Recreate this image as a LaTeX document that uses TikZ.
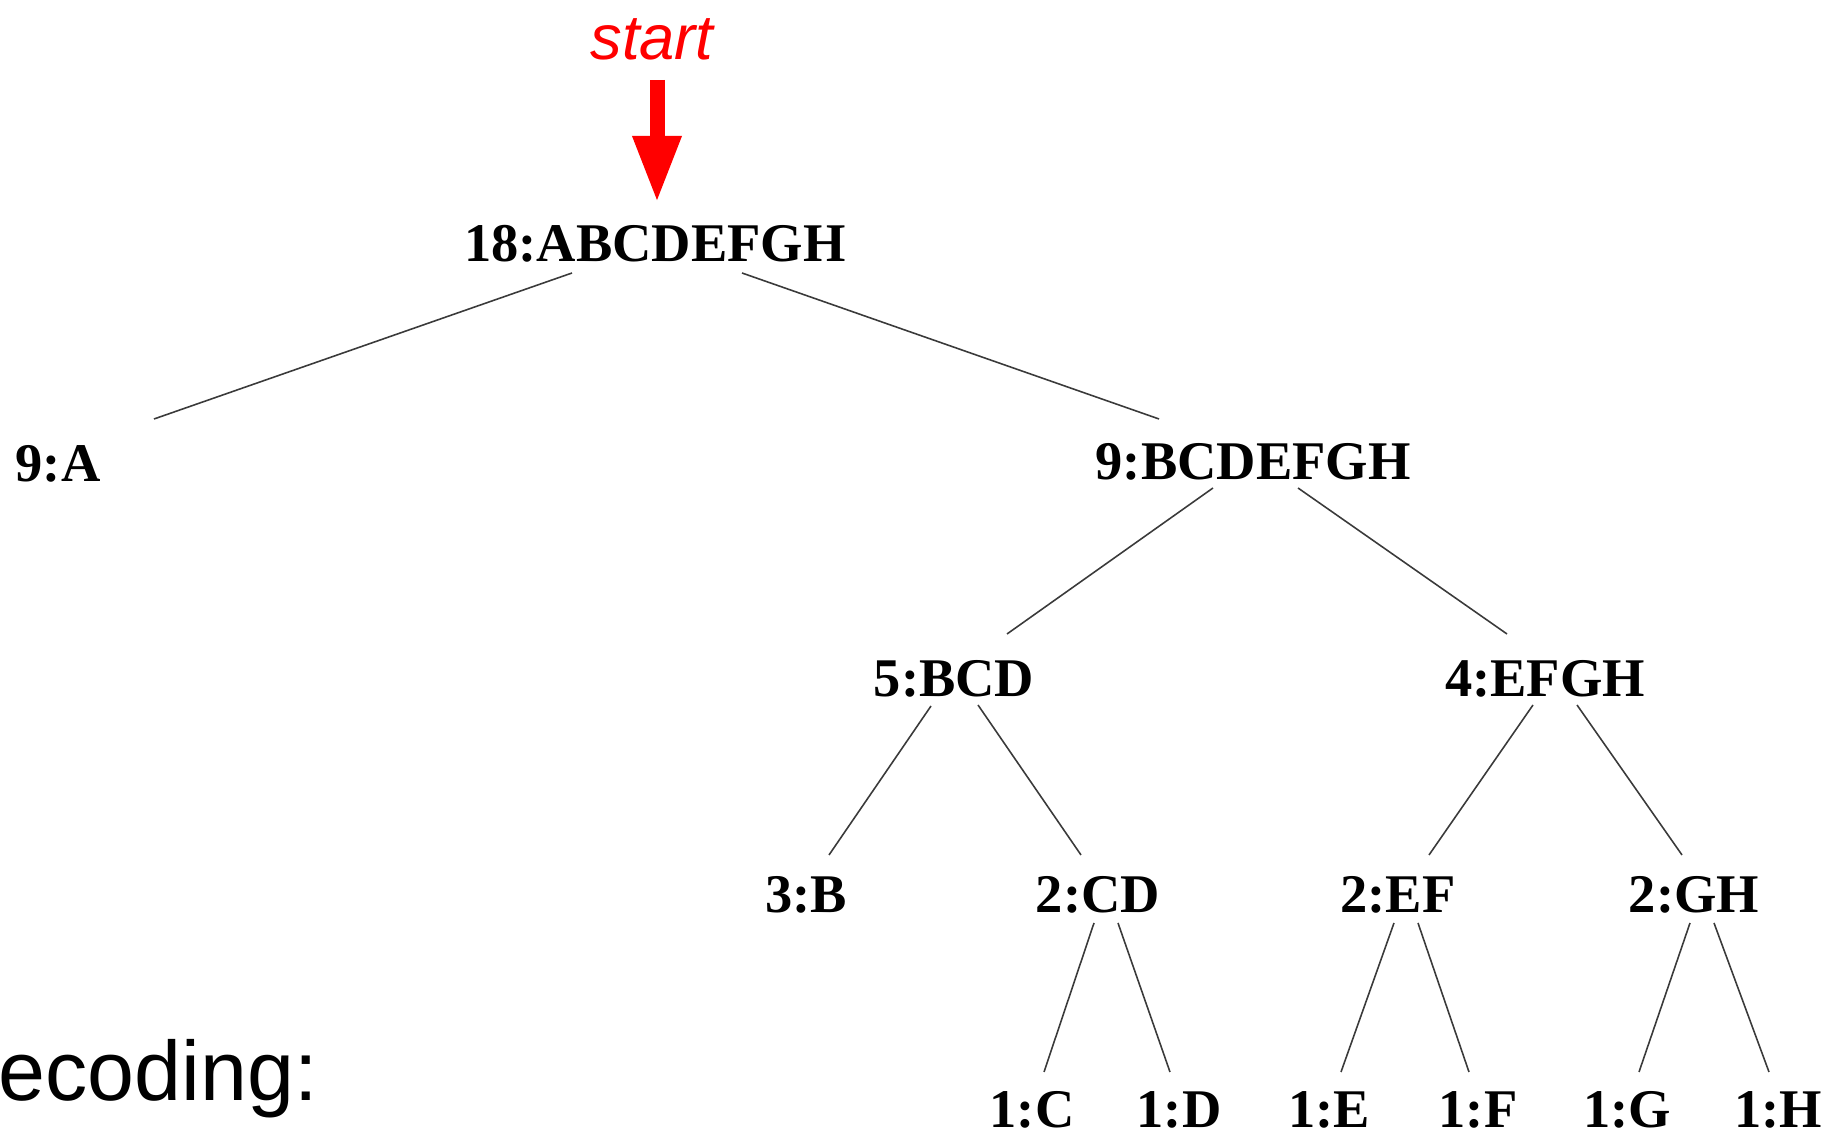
\documentclass[tikz,border=0pt]{standalone}
\usepackage{fontspec}
\setmainfont{Liberation Serif}
\newfontfamily\arialfont{Liberation Sans}
\usepackage{xcolor}
\usepackage{tikz}
\usetikzlibrary{arrows.meta,positioning,calc}
\definecolor{hfInk}{HTML}{000000}
\definecolor{hfEdge}{HTML}{3A3A3A}
\definecolor{hfRed}{HTML}{FF0000}
\tikzset{
  % Tree node label (bold serif)
  hnode/.style={inner sep=0pt,
    font=\fontsize{15.5}{18}\selectfont\bfseries,text=hfInk},
  % Thin tree edge
  hline/.style={draw=hfEdge,line width=0.45pt},
  % Red start arrow
  startarr/.style={-{Triangle[length=6.7mm,width=4.5mm]},
    line width=1.5mm,color=hfRed},
  % Labels (sans)
  startlbl/.style={inner sep=0pt,anchor=base,
    font=\arialfont\itshape\fontsize{18}{20}\selectfont,text=hfRed},
  sidelbl/.style={inner sep=0pt,anchor=base west,
    font=\arialfont\fontsize{24}{28}\selectfont,text=hfInk},
}

\begin{document}
\begin{tikzpicture}[x=0.1mm,y=-0.1mm]
  \useasboundingbox (0,0) rectangle (1842,1146);

  % Start marker
  \node[startlbl] (start) at (652,60) {start};

  % Levels 0--2
  \node[hnode] (root) at (655,244) {18:ABCDEFGH};
  \node[hnode] (nA)   at (58,464)   {9:A};
  \node[hnode] (nBH)  at (1253,462) {9:BCDEFGH};
  \node[hnode] (nBD)  at (954,679)  {5:BCD};
  \node[hnode] (nEH)  at (1545,679) {4:EFGH};

  % Level 3
  \node[hnode] (nB)  at (806,895)  {3:B};
  \node[hnode] (nCD) at (1098,895) {2:CD};
  \node[hnode] (nEF) at (1398,895) {2:EF};
  \node[hnode] (nGH) at (1694,895) {2:GH};

  % Leaves
  \foreach \nm/\x/\t in {nC/1032/C,nD/1179/D,nE/1329/E,nF/1478/F,nG/1627/G,nH/1778/H}
    \node[hnode] (\nm) at (\x,1110) {1:\t};

  % Side text
  \node[sidelbl] (dec) at (-2,1101) {ecoding:};

  % Arrow
  \draw[startarr] ($(start.base)+(5,20)$) -- ($(root)+(2,-41)$);

  % Edges
  \draw[hline] ($(root)+(-83,29)$) -- ($(nA)+(96,-45)$);
  \draw[hline] ($(root)+(87,29)$) -- ($(nBH)+(-94,-43)$);
  \draw[hline] ($(nBH)+(-40,26)$) -- ($(nBD)+(53,-45)$);
  \draw[hline] ($(nBH)+(45,26)$) -- ($(nEH)+(-38,-45)$);
  \draw[hline] ($(nBD)+(-23,27)$) -- ($(nB)+(23,-40)$);
  \draw[hline] ($(nBD)+(24,26)$) -- ($(nCD)+(-17,-40)$);
  \draw[hline] ($(nEH)+(-12,26)$) -- ($(nEF)+(31,-40)$);
  \draw[hline] ($(nEH)+(32,26)$) -- ($(nGH)+(-12,-40)$);
  \foreach \p/\l/\r in {nCD/nC/nD,nEF/nE/nF,nGH/nG/nH} {
    \draw[hline] ($(\p)+(-4,28)$) -- ($(\l)+(12,-38)$);
    \draw[hline] ($(\p)+(20,28)$) -- ($(\r)+(-9,-38)$);
  }
\end{tikzpicture}
\end{document}
